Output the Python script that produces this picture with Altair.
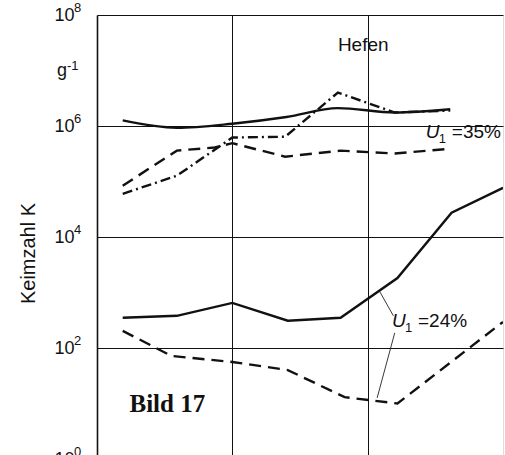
import altair as alt
import pandas as pd

# Storage time in grid units (three equal intervals) and yeast count K per gram
x_35_solid = [0.19, 0.59, 1.00, 1.40, 1.78, 2.20, 2.61]
k_35_solid = [1.26e6, 9.3e5, 1.1e6, 1.45e6, 2.1e6, 1.75e6, 2.0e6]

x_35_dashdot = [0.19, 0.59, 1.00, 1.39, 1.78, 2.20, 2.61]
k_35_dashdot = [6.0e4, 1.27e5, 6.2e5, 6.4e5, 4.0e6, 1.75e6, 1.9e6]

x_35_dashed = [0.19, 0.59, 0.87, 1.00, 1.39, 1.80, 2.20, 2.61]
k_35_dashed = [8.4e4, 3.6e5, 4.1e5, 4.9e5, 2.8e5, 3.6e5, 3.2e5, 3.9e5]

x_24_solid = [0.19, 0.59, 1.00, 1.41, 1.80, 2.22, 2.62, 3.00]
k_24_solid = [350, 380, 650, 310, 350, 1820, 2.75e4, 7.7e4]

x_24_dashed = [0.19, 0.55, 1.00, 1.41, 1.83, 2.22, 3.00]
k_24_dashed = [204, 72, 56, 40, 13, 10, 295]

# Leader lines from the 24 % label to its two curves
leader_x = [2.09, 2.20]
leader_y = [1030, 187]
leader_x2 = [2.19, 2.07]
leader_y2 = [380, 12.6]

# Annotations
note_text = ["Hefen", "Bild 17"]
note_x = [1.78, 0.24]
note_y = [2.9e7, 9.8]

u_labels = ["=35%", "=24%"]
u_x = [2.43, 2.18]
u_y = [7.9e5, 309]

# Y ticks (powers of ten) and their exponents; the unit g^-1 sits at 1e7
y_ticks = [1, 1e2, 1e4, 1e6, 1e8]
y_exponents = ["0", "2", "4", "6", "8"]
unit_y = [1e7]
unit_base = ["g"]
unit_exp = ["-1"]

FONT = "Liberation Sans"
INK = "#111"

x_scale = alt.Scale(domain=[0, 3], nice=False, zero=False)
y_scale = alt.Scale(type="log", domain=[1, 1e8], nice=False)

x_axis = alt.Axis(values=[1, 2], grid=True, gridColor=INK, gridWidth=1,
                  labels=False, ticks=False, domain=False, title=None)
y_axis = alt.Axis(
    values=y_ticks,
    labelExpr="'10'",
    grid=True, gridColor=INK, gridWidth=1,
    ticks=False, domain=True, domainColor=INK, domainWidth=1.6,
    labelFont=FONT, labelFontSize=18, labelColor=INK, labelPadding=23,
    labelBaseline="middle",
    title="Keimzahl K", titleFont=FONT, titleFontSize=20, titleFontWeight="normal",
    titleColor=INK, titleAngle=270, titleAlign="center", titleBaseline="middle",
    titleX=-69, titleY=238,
)


def curve(xs, ks, dash=None, interp="linear"):
    df = pd.DataFrame({"x": xs, "k": ks})
    kw = dict(color=INK, strokeWidth=2.4, interpolate=interp, clip=True)
    if dash:
        kw["strokeDash"] = dash
    return alt.Chart(df).mark_line(**kw).encode(
        x=alt.X("x:Q", scale=x_scale, axis=x_axis),
        y=alt.Y("k:Q", scale=y_scale, axis=y_axis),
    )


lines = [
    curve(x_35_solid, k_35_solid, interp="monotone"),
    curve(x_35_dashdot, k_35_dashdot, dash=[10, 4, 2, 4]),
    curve(x_35_dashed, k_35_dashed, dash=[12, 7]),
    curve(x_24_solid, k_24_solid),
    curve(x_24_dashed, k_24_dashed, dash=[12, 7]),
]

# Exponents next to the "10" tick labels
exponents = alt.Chart(pd.DataFrame({"k": y_ticks, "e": y_exponents})).mark_text(
    align="left", baseline="middle", font=FONT, fontSize=13, color=INK, dy=-7
).encode(x=alt.value(-23), y="k:Q", text="e:N")

# Unit g^-1 in the left margin
unit_df = pd.DataFrame({"k": unit_y, "b": unit_base, "e": unit_exp})
unit_base_txt = alt.Chart(unit_df).mark_text(
    align="right", baseline="middle", font=FONT, fontSize=18, color=INK
).encode(x=alt.value(-30), y="k:Q", text="b:N")
unit_exp_txt = alt.Chart(unit_df).mark_text(
    align="left", baseline="middle", font=FONT, fontSize=13, color=INK, dy=-5
).encode(x=alt.value(-30), y="k:Q", text="e:N")

leaders = alt.Chart(pd.DataFrame({"x": leader_x, "y": leader_y,
                                  "x2": leader_x2, "y2": leader_y2})).mark_rule(
    color="#222", strokeWidth=0.9
).encode(x="x:Q", y="y:Q", x2="x2:Q", y2="y2:Q")

notes_df = pd.DataFrame({"x": note_x, "y": note_y, "t": note_text})
hefen = alt.Chart(notes_df.iloc[[0]]).mark_text(
    align="left", baseline="middle", font=FONT, fontSize=19, color=INK
).encode(x="x:Q", y="y:Q", text="t:N")
bild = alt.Chart(notes_df.iloc[[1]]).mark_text(
    align="left", baseline="middle", font="Liberation Serif", fontSize=25,
    fontWeight="bold", color=INK
).encode(x="x:Q", y="y:Q", text="t:N")

u_df = pd.DataFrame({"x": u_x, "y": u_y, "t": u_labels, "u": ["U", "U"], "s": ["1", "1"]})
u_main = alt.Chart(u_df).mark_text(
    align="left", baseline="middle", font=FONT, fontSize=19, fontStyle="italic", color=INK
).encode(x="x:Q", y="y:Q", text="u:N")
u_sub = alt.Chart(u_df).mark_text(
    align="left", baseline="middle", font=FONT, fontSize=13, dx=13, dy=7, color=INK
).encode(x="x:Q", y="y:Q", text="s:N")
u_rest = alt.Chart(u_df).mark_text(
    align="left", baseline="middle", font=FONT, fontSize=19, dx=26, color=INK
).encode(x="x:Q", y="y:Q", text="t:N")

chart = alt.layer(*lines, exponents, unit_base_txt, unit_exp_txt, leaders, hefen, bild,
                  u_main, u_sub, u_rest).properties(
    width=406, height=444,
    autosize=alt.AutoSizeParams(type="none"),
    padding={"left": 97, "top": 15, "right": 2, "bottom": 30},
).configure_view(stroke=INK, strokeWidth=1.5).configure(background="white")

chart.save("out.html", embed_options={"renderer": "svg", "actions": False})
